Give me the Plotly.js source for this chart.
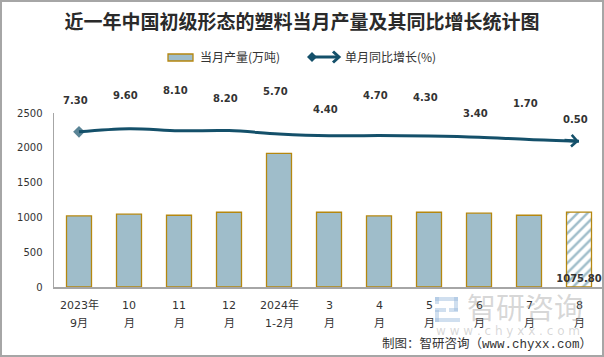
<!DOCTYPE html>
<html>
<head>
<meta charset="utf-8">
<script src="https://cdn.plot.ly/plotly-3.0.1.min.js"></script>
<style>
html,body{margin:0;padding:0;background:#fff;}
#wrap{position:relative;width:604px;height:357px;}
#chart{width:604px;height:357px;}
#frame{position:absolute;left:0;top:0;width:600px;height:353px;border:2px solid #a6a6a6;pointer-events:none;}
</style>
</head>
<body>
<div id="wrap"><div id="chart"></div><div id="frame"></div></div>
<script>
const categories = ["2023年9月","10月","11月","12月","2024年1-2月","3月","4月","5月","6月","7月","8月"];
const tickLine1 = ["2023年","10","11","12","2024年","3","4","5","6","7","8"];
const tickLine2 = ["9月","月","月","月","1-2月","月","月","月","月","月","月"];
const yTicks = [0, 500, 1000, 1500, 2000, 2500];
const production = [1021, 1046, 1031, 1074, 1920, 1074, 1021, 1074, 1060, 1031, 1075.80];
const growth = [7.30, 9.60, 8.10, 8.20, 5.70, 4.40, 4.70, 4.30, 3.40, 1.70, 0.50];
const growthLabelShift = [31, 33, 40, 32, 43, 26, 40, 38, 24, 36, 22];
const lastLabel = "1075.80";

const barColor = '#9fbdca';
const barLine = '#b5870f';
const lineColor = '#14506a';
const n = categories.length;

// plot area geometry (pixels) used only for decorations placement
const L = 54, R = 604, T = 113, B = 287;
const px = v => (v - L) / (R - L);
const py = v => (B - v) / (B - T);

const barPattern = production.map((v,i)=> i===n-1 ? '/' : '');
const barText = production.map((v,i)=> i===n-1 ? lastLabel : '');

const markerSymbols = growth.map((v,i)=> i===0 ? 'diamond' : 'circle');
const markerSizes = growth.map((v,i)=> i===0 ? 9 : 0);

const traces = [
  {
    type:'bar', name:'当月产量(万吨)', x:categories, y:production,
    width:0.5,
    marker:{color:barColor, line:{color:barLine, width:1.3},
      pattern:{shape:barPattern, fillmode:'replace', bgcolor:'#ffffff', fgcolor:barColor, size:7, solidity:0.35}},
    text:barText, textposition:'inside', insidetextanchor:'start', constraintext:'none', textangle:0,
    textfont:{family:'DejaVu Sans', size:10, color:'#333', weight:'bold'},
    hoverinfo:'skip', showlegend:false
  },
  {
    type:'scatter', mode:'lines+markers', name:'单月同比增长(%)', x:categories, y:growth, yaxis:'y2',
    line:{color:lineColor, width:3, shape:'spline', smoothing:1},
    marker:{symbol:markerSymbols, size:markerSizes, color:lineColor, line:{width:0}},
    hoverinfo:'skip', showlegend:false
  }
];

const annotations = growth.map((v,i)=>({
  x:categories[i], y:v, xref:'x', yref:'y2', text:v.toFixed(2), showarrow:false,
  xshift:-4, yshift:growthLabelShift[i], xanchor:'center', yanchor:'middle',
  font:{family:'DejaVu Sans', size:10, color:'#333', weight:'bold'}
}));

// arrow head at the end of the growth line
annotations.push({
  x:categories[n-1], y:growth[n-1], xref:'x', yref:'y2', text:'', showarrow:true,
  ax:-16, ay:-1, arrowhead:4, arrowsize:0.75, arrowwidth:3, arrowcolor:lineColor, standoff:0
});

// x tick labels (two lines)
categories.forEach((c,i)=>{
  annotations.push({x:c, xref:'x', y:py(305), yref:'paper', text:tickLine1[i], showarrow:false,
    xanchor:'center', yanchor:'middle', font:{family:'DejaVu Sans, Noto Sans CJK SC', size:11, color:'#333'}});
  annotations.push({x:c, xref:'x', y:py(323), yref:'paper', text:tickLine2[i], showarrow:false,
    xanchor:'center', yanchor:'middle', font:{family:'DejaVu Sans, Noto Sans CJK SC', size:11, color:'#333'}});
});

// legend texts
annotations.push({xref:'paper', yref:'paper', x:px(198), y:py(57), text:'当月产量(万吨)', showarrow:false,
  xanchor:'left', yanchor:'middle', font:{family:'Noto Sans CJK SC', size:12, color:'#333'}});
annotations.push({xref:'paper', yref:'paper', x:px(343), y:py(57), text:'单月同比增长(%)', showarrow:false,
  xanchor:'left', yanchor:'middle', font:{family:'Noto Sans CJK SC', size:12, color:'#333'}});

// watermark
annotations.push({
  xref:'paper', yref:'paper', x:px(525), y:py(306), text:'智研咨询', showarrow:false,
  xanchor:'center', yanchor:'middle',
  font:{family:'Noto Sans CJK SC', size:29, color:'rgba(150,150,150,0.38)'}
});
annotations.push({
  xref:'paper', yref:'paper', x:px(508), y:py(331), text:'w w w . c h y x x . c o m', showarrow:false,
  xanchor:'center', yanchor:'middle',
  font:{family:'DejaVu Sans', size:12, color:'rgba(150,150,150,0.38)'}
});
annotations.push({
  xref:'paper', yref:'paper', x:px(594), y:py(344), text:'制图：智研咨询（www.chyxx.com）', showarrow:false,
  xanchor:'right', yanchor:'middle',
  font:{family:'Liberation Mono, Noto Sans CJK SC', size:12.5, color:'#333'}
});

const wmBlue = 'rgba(150,185,220,0.45)';
const rectPx = (x0,y0,x1,y1,fill,line) => ({type:'rect', xref:'paper', yref:'paper',
  x0:px(x0), x1:px(x1), y0:py(y0), y1:py(y1), fillcolor:fill, line:line||{width:0}, layer:'above'});

const shapes = [
  // legend: bar swatch
  rectPx(168, 54, 193, 61, barColor, {color:barLine, width:1.3}),
  // legend: line with diamond and arrow
  {type:'line', xref:'paper', yref:'paper', x0:px(312), x1:px(338), y0:py(57), y1:py(57), line:{color:lineColor, width:3}},
  {type:'path', xref:'paper', yref:'paper', fillcolor:lineColor, line:{width:0},
    path:`M ${px(307)} ${py(57)} L ${px(312)} ${py(52)} L ${px(317)} ${py(57)} L ${px(312)} ${py(62)} Z`},
  {type:'path', xref:'paper', yref:'paper', line:{color:lineColor, width:3},
    path:`M ${px(333)} ${py(51.5)} L ${px(339)} ${py(57)} L ${px(333)} ${py(62.5)}`},
  // watermark logo
  rectPx(435, 297, 458, 301, wmBlue),
  rectPx(454, 297, 458, 311, wmBlue),
  rectPx(435, 308, 446, 312, wmBlue),
  rectPx(449, 308, 458, 312, wmBlue),
  rectPx(435, 310, 439, 322, wmBlue),
  rectPx(435, 318, 460, 322, wmBlue),
  rectPx(435, 297, 439, 304, wmBlue)
];

const layout = {
  width:604, height:357,
  margin:{l:L, r:604-R, t:T, b:357-B, pad:0},
  paper_bgcolor:'#fff', plot_bgcolor:'#fff',
  font:{family:'DejaVu Sans, Noto Sans CJK SC', color:'#333'},
  title:{text:'近一年中国初级形态的塑料当月产量及其同比增长统计图', x:0.5, xref:'container', xanchor:'center',
    y:1-22/357, yref:'container', yanchor:'middle',
    font:{family:'Noto Sans CJK SC', size:19, color:'#2a2a2a', weight:'bold'}},
  showlegend:false,
  xaxis:{type:'category', range:[-0.5, n-0.5], showline:true, linecolor:'#a6a6a6', linewidth:1.5,
    ticks:'', showgrid:false, zeroline:false, showticklabels:false},
  yaxis:{range:[0,2500], tickvals:yTicks, showline:true, linecolor:'#a6a6a6', linewidth:1.5,
    ticks:'', showgrid:false, zeroline:false, ticklabelstandoff:8,
    tickfont:{family:'DejaVu Sans', size:10, color:'#333'}},
  yaxis2:{overlaying:'y', side:'right', range:[-106.3, 21.1], visible:false, showgrid:false, zeroline:false},
  annotations:annotations,
  shapes:shapes
};

Plotly.newPlot('chart', traces, layout, {displayModeBar:false, staticPlot:true});
</script>
</body>
</html>
